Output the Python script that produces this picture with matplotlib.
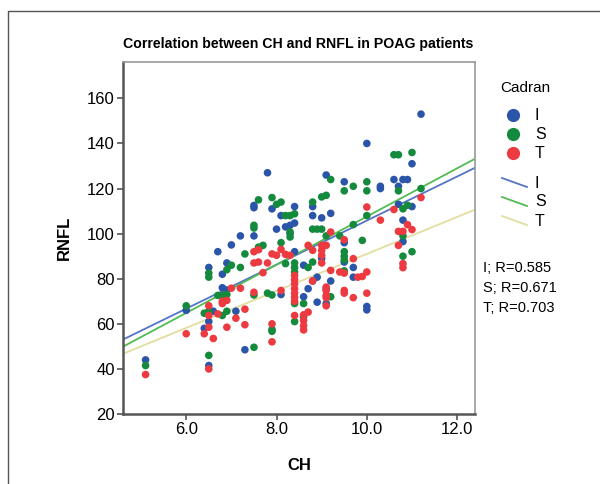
import matplotlib
matplotlib.use("Agg")
import matplotlib.pyplot as plt
import numpy as np
from matplotlib.lines import Line2D

plt.rcParams['font.family'] = ['Liberation Sans', 'DejaVu Sans']

# Cadran I (blue)
ch_i = [5.1, 6.0, 6.4, 6.5, 6.5, 6.5, 6.6, 6.7, 6.8, 6.8, 6.9, 6.9, 7.0, 7.1, 7.2, 7.3,
        7.5, 7.5, 7.5, 7.6, 7.8, 7.9, 8.0, 8.1, 8.1, 8.2, 8.3, 8.4, 8.4, 8.4, 8.6, 8.6,
        8.7, 8.8, 8.8, 8.8, 8.9, 8.9, 9.0, 9.0, 9.1, 9.1, 9.1, 9.2, 9.2, 9.5, 9.5, 9.5,
        9.7, 9.7, 10.0, 10.0, 10.0, 10.3, 10.3, 10.6, 10.7, 10.7, 10.8, 10.9, 10.8, 10.8,
        11.0, 11.0, 11.2, 8.3]
rnfl_i = [44, 66, 58, 61, 41.5, 85, 65.6, 92, 82, 76, 75, 87, 95, 65.6, 99, 48.5,
          99, 112.5, 111.5, 93, 127, 111, 102, 73, 108, 103, 103.7, 104.7, 92, 112, 86, 72,
          75.6, 79, 112, 108, 80.7, 69.6, 107, 89, 126, 75.5, 69, 109, 79, 123, 96, 87.4,
          85, 80.7, 140, 67.7, 66.2, 121, 120, 124, 121, 113, 124, 124, 106, 96.5,
          131, 112, 153, 100]

# Cadran S (green)
ch_s = [5.1, 6.0, 6.4, 6.5, 6.5, 6.5, 6.5, 6.7, 6.8, 6.8, 6.9, 6.9, 6.9, 7.0, 7.2, 7.3,
        7.5, 7.5, 7.5, 7.5, 7.6, 7.7, 7.6, 7.8, 7.9, 7.9, 7.9, 7.9, 8.0, 8.1, 8.1, 8.2,
        8.2, 8.3, 8.3, 8.3, 8.4, 8.4, 8.4, 8.4, 8.4, 8.4, 8.6, 8.6, 8.8, 8.8, 8.9, 9.0,
        8.8, 8.7, 9.0, 9.1, 9.1, 9.2, 9.2, 9.4, 9.5, 9.5, 9.5, 9.5, 9.5, 9.7, 9.7, 9.9,
        10.0, 10.0, 10.0, 10.6, 10.7, 11.0, 10.7, 10.8, 10.9, 11.2, 10.8, 10.8, 11.0]
rnfl_s = [41.5, 68, 64.7, 65.6, 46, 82.5, 80.7, 72.6, 72.6, 63.7, 73, 65.6, 84, 86, 85, 91,
          49.6, 72.8, 103.7, 102.5, 115, 94.8, 94, 73.6, 72.8, 116, 57.5, 56.7, 113, 114, 96, 108,
          86.7, 108, 100.7, 98.5, 108.8, 87, 85, 83, 69, 61, 69, 63, 114, 102, 102, 102,
          87.4, 85, 116.3, 117, 99, 124, 72, 99, 119, 92, 90, 88.4, 83.5, 121, 104, 97,
          123, 119, 108, 135, 135, 136, 119, 111, 112.6, 120, 99, 90, 92]

# Cadran T (red)
ch_t = [5.1, 6.0, 6.4, 6.5, 6.5, 6.5, 6.5, 6.6, 6.7, 6.8, 6.8, 6.9, 6.9, 7.0, 7.1, 7.2,
        7.3, 7.3, 7.5, 7.5, 7.5, 7.6, 7.6, 7.7, 7.8, 7.9, 7.9, 7.9, 8.0, 8.1, 8.1, 8.2,
        8.3, 8.4, 8.4, 8.4, 8.4, 8.4, 8.4, 8.4, 8.4, 8.6, 8.6, 8.6, 8.6, 8.7, 8.7, 8.8,
        8.8, 9.0, 9.0, 9.0, 9.0, 9.1, 9.1, 9.1, 9.1, 9.1, 9.1, 9.2, 9.2, 9.4, 9.5, 9.5,
        9.5, 9.5, 9.7, 9.7, 9.8, 9.9, 10.0, 10.0, 10.0, 10.3, 10.6, 10.7, 10.8, 10.7, 10.8,
        10.8, 10.9, 11.0, 11.2]
rnfl_t = [37.5, 55.6, 55.6, 68, 63.7, 58.5, 40, 53.5, 64.4, 70, 69, 70.4, 58.5, 75.8, 62.5, 75.8,
          66.5, 59.6, 92, 87, 74, 92.9, 87.4, 82.7, 87, 91, 60, 52, 90.4, 93, 74.8, 90.8,
          90.4, 81.5, 79.6, 77.8, 75.6, 73.6, 71.8, 70, 63.7, 64, 61.5, 59.2, 57.3, 94.8, 65.2, 92.6,
          79, 92.6, 90.4, 87, 94.8, 94.8, 76.3, 74.8, 72.6, 71.6, 68, 100.7, 83.7, 83, 97.3, 82.5,
          74.8, 73.6, 88.9, 71.6, 80.7, 81, 83, 73.6, 111.8, 106, 110.7, 101, 101, 94.8, 86.7,
          84.9, 104, 101.8, 116]

# fit lines (slope, intercept)
fit_i = (9.77, 8.1)
fit_s = (10.69, 0.7)
fit_t = (8.2, 9.0)
r_values = ['I; R=0.585', 'S; R=0.671', 'T; R=0.703']

dot_cols = ['#2b55a8', '#138a3c', '#ec3a40']
line_cols = ['#5673c8', '#52bb52', '#e2dea0']

fig = plt.figure(figsize=(6, 4.84), dpi=100)
ax = fig.add_axes([0.205, 0.1446, 0.587, 0.7267])

xs = np.array([4.6, 12.4])
for (m, b), c in zip([fit_i, fit_s, fit_t], line_cols):
    ax.plot(xs, m * xs + b, color=c, lw=1.3, zorder=1)

for x, y, c in zip([ch_i, ch_s, ch_t], [rnfl_i, rnfl_s, rnfl_t], dot_cols):
    ax.scatter(x, y, s=30, color=c, edgecolors='none', zorder=2)

ax.set_xlim(4.6, 12.4)
ax.set_ylim(20, 176)
ax.set_xticks([6, 8, 10, 12])
ax.set_xticklabels(['6.0', '8.0', '10.0', '12.0'])
ax.set_yticks(np.arange(20, 161, 20))
ax.tick_params(labelsize=12, length=4, width=1.2, color='#555555', pad=2)
for s in ['left', 'bottom']:
    ax.spines[s].set_color('#555555')
    ax.spines[s].set_linewidth(1.8)
for s in ['top', 'right']:
    ax.spines[s].set_color('#999999')
    ax.spines[s].set_linewidth(1.2)

ax.set_xlabel('CH', fontsize=12, fontweight='bold')
ax.set_ylabel('RNFL', fontsize=12, fontweight='bold')
ax.xaxis.set_label_coords(0.5, -0.125)
ax.yaxis.set_label_coords(-0.145, 0.5)
fig.text(0.497, 0.909, 'Correlation between CH and RNFL in POAG patients',
         ha='center', va='center', fontsize=10.2, fontweight='bold')

# legend, drawn in pixel space
def px(x, y):
    return x / 600, 1 - y / 484

fig.text(*px(500, 88), 'Cadran', fontsize=11, va='center')
for k, (c, lab) in enumerate(zip(dot_cols, ['I', 'S', 'T'])):
    yy = 115 + 19 * k
    fig.add_artist(Line2D([px(513, yy)[0]], [px(513, yy)[1]], marker='o', ms=9.5,
                          color=c, mec='none', transform=fig.transFigure))
    fig.text(*px(535, yy), lab, fontsize=11.5, va='center')
for k, (c, lab) in enumerate(zip(line_cols, ['I', 'S', 'T'])):
    yy = 183 + 19 * k
    x0, y0 = px(502, yy - 5)
    x1, y1 = px(527, yy + 4)
    fig.add_artist(Line2D([x0, x1], [y0, y1], color=c, lw=1.3, transform=fig.transFigure))
    fig.text(*px(535, yy), lab, fontsize=11.5, va='center')
for k, t in enumerate(r_values):
    fig.text(*px(483, 268 + 20 * k), t, fontsize=10.5, va='center')

# outer frame
fig.add_artist(Line2D([8 / 600, 8 / 600, 1], [0, 1 - 11 / 484, 1 - 11 / 484],
                      color='#555555', lw=1.0, transform=fig.transFigure))

fig.savefig('out.png', dpi=100)
